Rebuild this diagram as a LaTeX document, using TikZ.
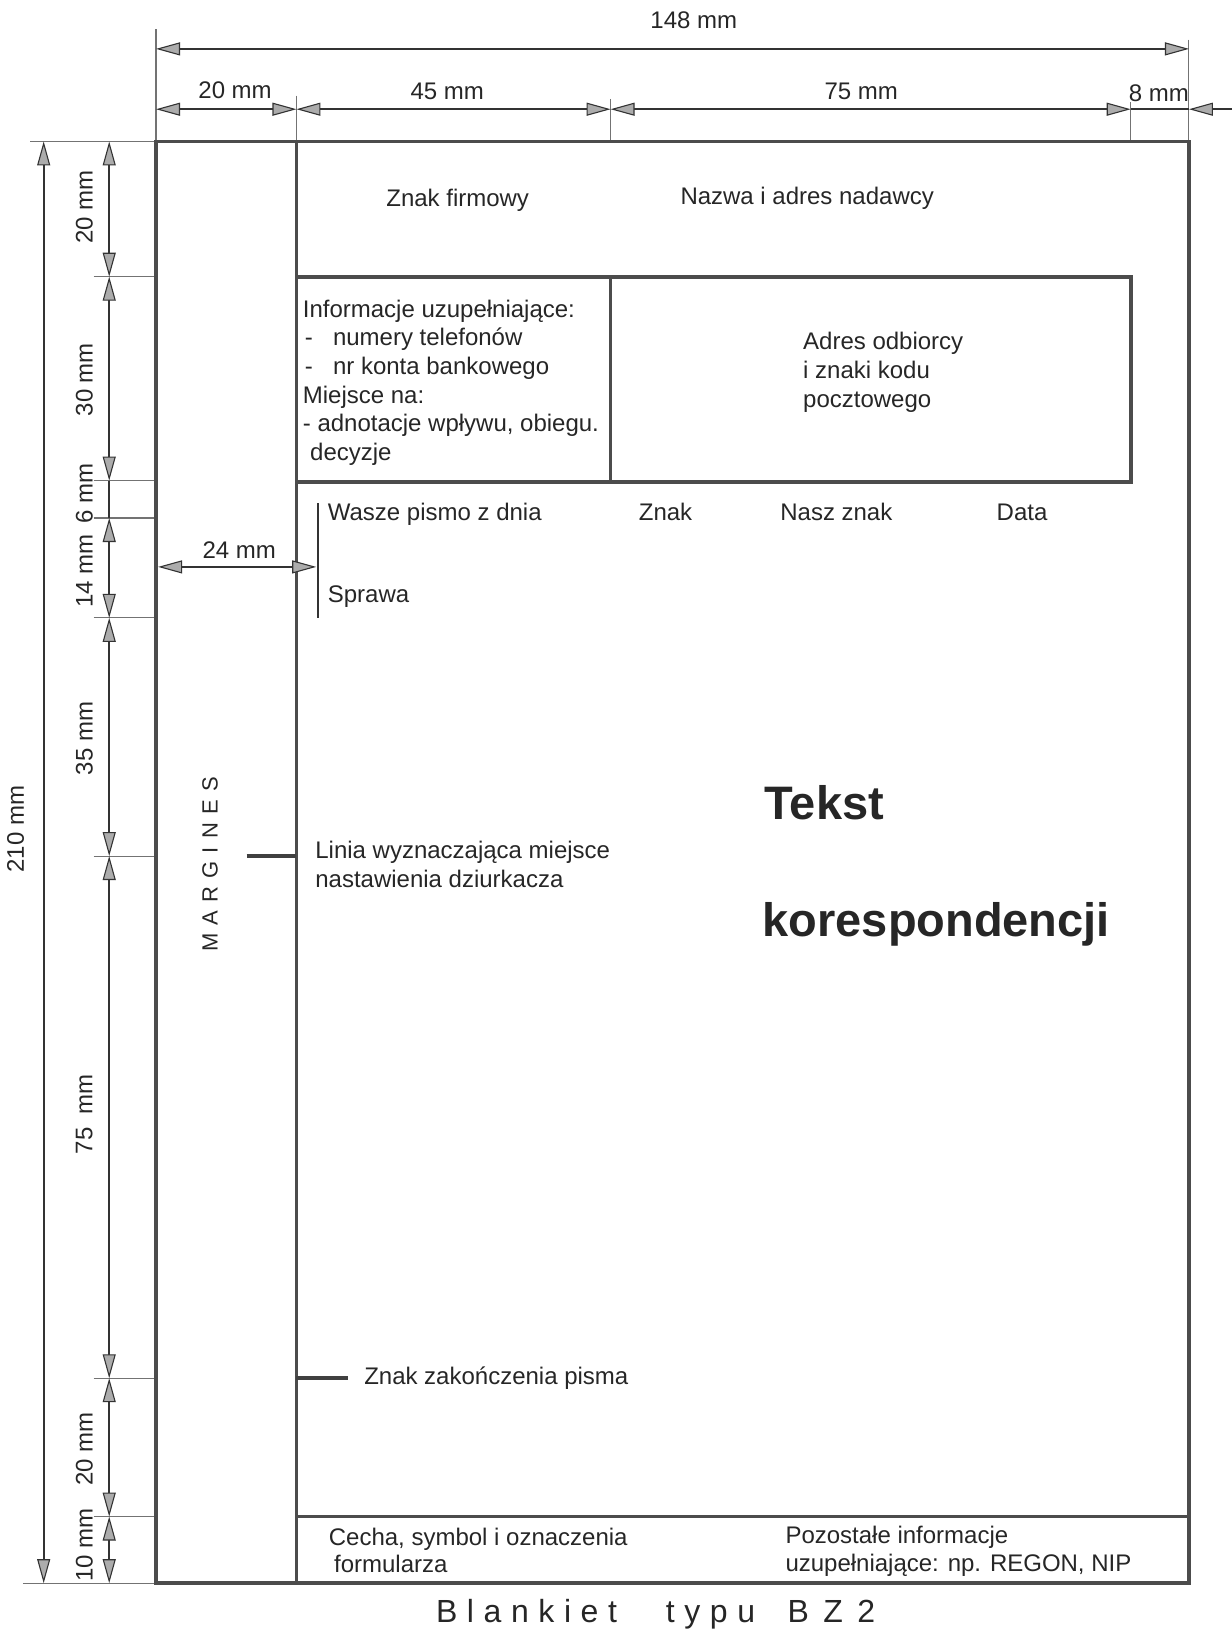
\documentclass[tikz,border=0pt]{standalone}
\usepackage{fontspec}
\setmainfont{Liberation Sans}
\usetikzlibrary{arrows.meta}
\begin{document}
\begin{tikzpicture}[x=1.0405pt,y=-1.0405pt,
  every node/.style={text=black!85, font=\fontsize{24}{29}\selectfont, inner sep=0pt},
  dtip/.tip={Triangle[length=24pt,width=13pt,fill=gray!65,line width=1.1pt]},
  dimline/.style={line width=1.9pt, draw=black!80},
  dimarr/.style={dimline, dtip-dtip},
  extline/.style={line width=1.1pt, draw=black!55},
  frameline/.style={line width=3.8pt, draw=black!70},
  tick/.style={line width=4pt, draw=black!75},
  rotlab/.style={rotate=90},
  titlefont/.style={anchor=base west, font=\fontsize{32}{38}\selectfont}]
\useasboundingbox (0,0) rectangle (1184,1568);

% extension lines
\draw[extline] (150,28) -- (150,136);
\draw[extline] (1143,38) -- (1143,136);
\draw[extline] (285,92) -- (285,136);
\draw[extline] (587,95) -- (587,136);
\draw[extline] (1087,98) -- (1087,136);
\draw[extline] (29,136) -- (150,136);
\draw[extline] (22,1522) -- (150,1522);
\foreach \yy in {266,462,498,594,823,1325,1458}
  \draw[extline] (90,\yy) -- (150,\yy);

% top dimensions
\draw[dimarr] (150,47) -- (1143,47);
\node (d148) at (667,19) {148 mm};
\draw[dimarr] (150,105) -- (285,105);
\node (d20h) at (226,87) {20 mm};
\draw[dimarr] (285,105) -- (587,105);
\node (d45) at (430,88) {45 mm};
\draw[dimarr] (587,105) -- (1087,105);
\node (d75h) at (828,88) {75 mm};
\draw[dimline] (1087,105) -- (1143,105);
\draw[dimline, -dtip] (1184,105) -- (1143,105);
\node (d8) at (1114,90) {8 mm};

% left dimensions
\draw[dimarr] (42,136) -- (42,1522);
\node[rotlab] (d210) at (15,797) {210 mm};
\draw[dimarr] (105,136) -- (105,266);
\node[rotlab] (v20a) at (81,199) {20 mm};
\draw[dimarr] (105,266) -- (105,462);
\node[rotlab] (v30) at (81,365) {30 mm};
\draw[dimline] (105,462) -- (105,498);
\node[rotlab] (v6) at (81,474) {6 mm};
\draw[dimarr] (105,498) -- (105,594);
\node[rotlab] (v14) at (81,549) {14 mm};
\draw[dimarr] (105,594) -- (105,823);
\node[rotlab] (v35) at (81,710) {35 mm};
\draw[dimarr] (105,823) -- (105,1325);
\node[rotlab] (v75) at (81,1071) {75~~mm};
\draw[dimarr] (105,1325) -- (105,1458);
\node[rotlab] (v20b) at (81,1393) {20 mm};
\draw[dimarr] (105,1458) -- (105,1522);
\node[rotlab] (v10) at (81,1485) {10 mm};

% frame and interior
\draw[frameline] (150,136) rectangle (1143,1522);
\draw[frameline] (285,136) -- (285,1522);
\draw[frameline] (285,266) rectangle (1087,463);
\draw[frameline] (587,266) -- (587,463);
\draw[frameline] (285,1458) -- (1143,1458);
\draw[line width=2pt, draw=black!80] (306,484) -- (306,594);
\draw[tick] (237,823) -- (285,823);
\draw[tick] (285,1325) -- (335,1325);

% 24 mm
\draw[dimarr] (152,545) -- (304,545);
\node (d24) at (230,529) {24 mm};

% texts
\node (znakf) at (440,193) {Znak firmowy};
\node (nazwa) at (776,191) {Nazwa i adres nadawcy};
\node[anchor=base west] (inf1) at (291,305) {Informacje uzupełniające:};
\node[anchor=base west] (inf2a) at (293,332) {-};
\node[anchor=base west] (inf2) at (320,332) {numery telefonów};
\node[anchor=base west] (inf3a) at (293,360) {-};
\node[anchor=base west] (inf3) at (320,360) {nr konta bankowego};
\node[anchor=base west] (inf4) at (291,388) {Miejsce na:};
\node[anchor=base west] (inf5) at (291,415) {- adnotacje wpływu, obiegu.};
\node[anchor=base west] (inf6) at (298,443) {decyzje};
\node[anchor=base west] (adr1) at (772,336) {Adres odbiorcy};
\node[anchor=base west] (adr2) at (772,364) {i znaki kodu};
\node[anchor=base west] (adr3) at (772,392) {pocztowego};
\node[anchor=base west] (wasze) at (315,500) {Wasze pismo z dnia};
\node[anchor=base west] (znak) at (614,500) {Znak};
\node[anchor=base west] (nasz) at (750,500) {Nasz znak};
\node[anchor=base west] (data) at (958,500) {Data};
\node[anchor=base west] (sprawa) at (315,579) {Sprawa};
\node[rotlab, font=\fontsize{22}{26}\selectfont] (marg) at (202,831) {\addfontfeature{LetterSpace=37}MARGINES};
\node[anchor=base west] (lin1) at (303,825) {Linia wyznaczająca miejsce};
\node[anchor=base west] (lin2) at (303,853) {nastawienia dziurkacza};
\node[anchor=base west, font=\fontsize{47}{56}\selectfont\bfseries] (tekst) at (735,788) {Tekst};
\node[anchor=base west, font=\fontsize{47}{56}\selectfont\bfseries] (kor) at (733,900) {korespondencji};
\node[anchor=base west] (zak) at (350,1331) {Znak zakończenia pisma};
\node[anchor=base west] (cecha1) at (316,1486) {Cecha, symbol i oznaczenia};
\node[anchor=base west] (cecha2) at (321,1512) {formularza};
\node[anchor=base west] (poz1) at (755,1484) {Pozostałe informacje};
\node[anchor=base west] (poz2) at (755,1511) {uzupełniające: np. REGON, NIP};
\node[titlefont] (blank1) at (419,1560) {\addfontfeature{LetterSpace=30}Blankiet};
\node[titlefont] (blank2) at (640,1560) {\addfontfeature{LetterSpace=30}typu};
\node[titlefont] (blank3) at (757,1560) {\addfontfeature{LetterSpace=45}BZ2};
\end{tikzpicture}
\end{document}
